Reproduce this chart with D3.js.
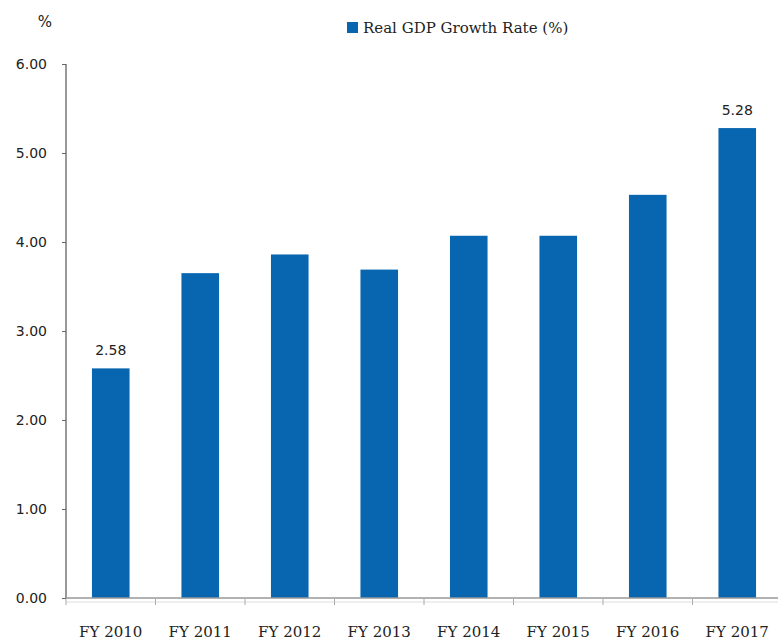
<!DOCTYPE html>
<html>
<head>
<meta charset="utf-8">
<script src="https://cdn.jsdelivr.net/npm/d3@7"></script>
<style>
  body { margin: 0; background: #fff; }
  svg { display: block; }
</style>
</head>
<body>
<script>
// data
const years = ["FY 2010", "FY 2011", "FY 2012", "FY 2013", "FY 2014", "FY 2015", "FY 2016", "FY 2017"];
const growth = [2.58, 3.65, 3.86, 3.69, 4.07, 4.07, 4.53, 5.28];
const labelled = ["FY 2010", "FY 2017"];
const yTicks = [0, 1, 2, 3, 4, 5, 6];
const seriesName = "Real GDP Growth Rate (%)";

const width = 778, height = 640;
const plotLeft = 66, plotRight = 782, plotTop = 64, plotBottom = 598;
const barColor = "#0866b1";

const svg = d3.select("body").append("svg")
    .attr("width", width)
    .attr("height", height);

const x = d3.scaleBand()
    .domain(years)
    .range([plotLeft, plotRight])
    .paddingInner(0.58)
    .paddingOuter(0.29);

const y = d3.scaleLinear()
    .domain([0, 6])
    .range([plotBottom, plotTop]);

// bars
svg.append("g")
    .selectAll("rect")
    .data(years)
    .join("rect")
    .attr("x", d => x(d))
    .attr("y", (d, i) => y(growth[i]))
    .attr("width", x.bandwidth())
    .attr("height", (d, i) => plotBottom - y(growth[i]))
    .attr("fill", barColor);

// value labels on first and last bar
svg.append("g")
    .selectAll("text")
    .data(years.filter(d => labelled.includes(d)))
    .join("text")
    .attr("x", d => x(d) + x.bandwidth() / 2)
    .attr("y", d => y(growth[years.indexOf(d)]) - 13)
    .attr("text-anchor", "middle")
    .attr("font-family", "DejaVu Sans")
    .attr("font-size", 14)
    .attr("fill", "#222")
    .text(d => growth[years.indexOf(d)].toFixed(2));

// y axis
const yAxis = svg.append("g")
    .attr("transform", `translate(${plotLeft},0)`)
    .call(d3.axisLeft(y).tickValues(yTicks).tickFormat(d3.format(".2f")).tickSize(4).tickPadding(15));
yAxis.select(".domain").attr("stroke", "#777").attr("stroke-width", 1.5).attr("d", `M0,${plotTop}V${plotBottom}`);
yAxis.selectAll(".tick line").attr("stroke", "#666");
yAxis.selectAll(".tick text")
    .attr("font-family", "DejaVu Sans")
    .attr("font-size", 14)
    .attr("fill", "#222");

// baseline
svg.append("line")
    .attr("x1", plotLeft).attr("x2", width)
    .attr("y1", plotBottom).attr("y2", plotBottom)
    .attr("stroke", "#999").attr("stroke-width", 1.5);

// x axis (light line with band separators)
const xAxis = svg.append("g")
    .attr("transform", `translate(0,${plotBottom + 4})`);
xAxis.append("line")
    .attr("x1", plotLeft).attr("x2", width)
    .attr("stroke", "#ddd");
xAxis.selectAll(".sep")
    .data(years)
    .join("line")
    .attr("class", "sep")
    .attr("x1", d => x(d) - x.step() * x.paddingOuter())
    .attr("x2", d => x(d) - x.step() * x.paddingOuter())
    .attr("y1", -3).attr("y2", 3)
    .attr("stroke", "#aaa");
xAxis.selectAll("text")
    .data(years)
    .join("text")
    .attr("x", d => x(d) + x.bandwidth() / 2)
    .attr("y", 35)
    .attr("text-anchor", "middle")
    .attr("font-family", "DejaVu Serif")
    .attr("font-size", 15)
    .attr("fill", "#222")
    .text(d => d);

// unit
svg.append("text")
    .attr("x", 45).attr("y", 27)
    .attr("text-anchor", "middle")
    .attr("font-family", "DejaVu Sans")
    .attr("font-size", 15)
    .attr("fill", "#222")
    .text("%");

// legend
const legend = svg.append("g").attr("transform", "translate(347,22)");
legend.append("rect")
    .attr("width", 11).attr("height", 11)
    .attr("fill", barColor);
legend.append("text")
    .attr("x", 16).attr("y", 11)
    .attr("font-family", "DejaVu Serif")
    .attr("font-size", 15)
    .attr("fill", "#222")
    .text(seriesName);
</script>
</body>
</html>
